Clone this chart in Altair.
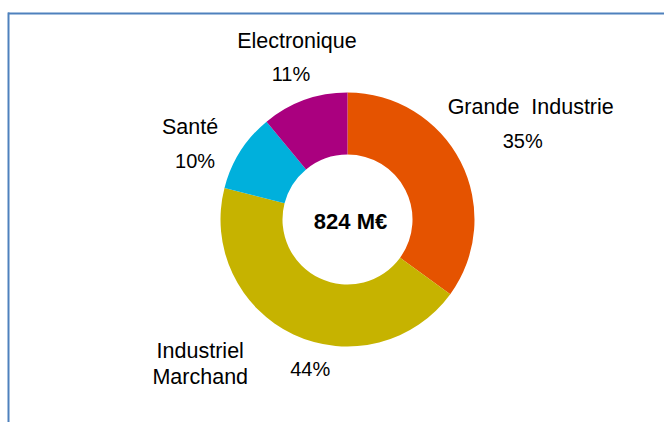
import math
import altair as alt
import pandas as pd

# ---- data ----
categories = ["Grande Industrie", "Industriel Marchand", "Santé", "Electronique"]
label_names = ["Grande\u00a0 Industrie", "Industriel\nMarchand", "Santé", "Electronique"]
shares = [35, 44, 10, 11]
colors = ["#E55300", "#C6B300", "#00B0DC", "#AA007F"]
total_label = "824 M€"

FONT = "Liberation Sans"
FS_NAME = 21.5
FS_PCT = 20

df = pd.DataFrame({
    "cat": categories,
    "name": label_names,
    "share": shares,
    "idx": list(range(len(categories))),
})
df["pct"] = df["share"].astype(str) + "%"

total = sum(shares)
theta_scale = alt.Scale(domain=[0, total], range=[0, 2 * math.pi])

stacked = (
    alt.Chart(df)
    .transform_stack(stack="share", as_=["s0", "s1"], groupby=[],
                     sort=[alt.SortField("idx", order="ascending")])
    .transform_calculate(mid="(datum.s0 + datum.s1) / 2")
)

arcs = stacked.mark_arc(innerRadius=65, outerRadius=127).encode(
    theta=alt.Theta("s0:Q", scale=theta_scale),
    theta2="s1:Q",
    color=alt.Color("cat:N", scale=alt.Scale(domain=categories, range=colors), legend=None),
)


def label(i, field, radius, dx, dy, fs, lh=26):
    return stacked.transform_filter(alt.datum.idx == i).mark_text(
        radius=radius, dx=dx, dy=dy, lineBreak="\n", lineHeight=lh,
        font=FONT, fontSize=fs, color="#000000", align="center", baseline="middle",
    ).encode(
        theta=alt.Theta("mid:Q", scale=theta_scale),
        text=alt.Text(f"{field}:N"),
    )


labels = [
    label(0, "name", 200, 5, -21, FS_NAME),
    label(0, "pct", 200, -3, 13, FS_PCT),
    label(1, "name", 165, -77, -17, FS_NAME, 26),
    label(1, "pct", 165, 33, 1, FS_PCT),
    label(2, "name", 180, -5.5, 4.5, FS_NAME),
    label(2, "pct", 180, -0.5, 38.5, FS_PCT),
    label(3, "name", 170, 7, -17.5, FS_NAME),
    label(3, "pct", 170, 1, 15.5, FS_PCT),
]

center = alt.Chart(pd.DataFrame({"t": [total_label]})).mark_text(
    font=FONT, fontSize=22, fontWeight="bold", color="#000000", dx=3, dy=2,
).encode(text="t:N")

border_color = "#4F81BD"
top_border = alt.Chart(pd.DataFrame({"a": [0]})).mark_rule(
    color=border_color, strokeWidth=2
).encode(x=alt.value(-23), x2=alt.value(633), y=alt.value(-3.5))
left_border = alt.Chart(pd.DataFrame({"a": [0]})).mark_rule(
    color=border_color, strokeWidth=2
).encode(x=alt.value(-22.5), y=alt.value(-4.5), y2=alt.value(405))

chart = (
    alt.layer(top_border, left_border, arcs, *labels, center)
    .properties(width=633, height=405, autosize="none",
                padding={"left": 31, "top": 17, "right": 0, "bottom": 0})
    .configure_view(stroke=None)
)

chart.save("out.html", embed_options={"renderer": "svg", "actions": False})
